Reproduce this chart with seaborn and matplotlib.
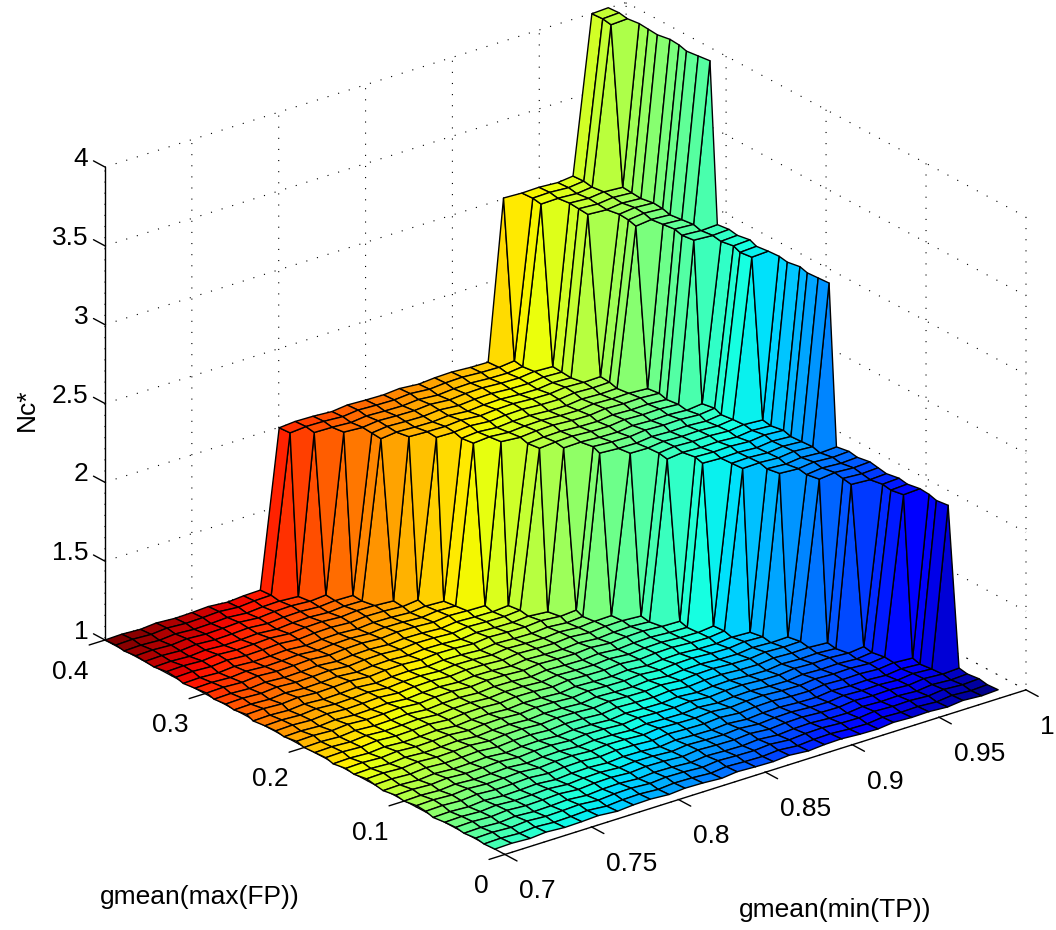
import numpy as np
import pandas as pd
import matplotlib
matplotlib.use('Agg')
import matplotlib.pyplot as plt
from mpl_toolkits.mplot3d import proj3d
import seaborn as sns

# grid of the surface (30 columns, 40 rows)
tp_vals = [0.70, 0.71, 0.72, 0.73, 0.74, 0.75, 0.76, 0.77, 0.78, 0.79,
           0.80, 0.81, 0.82, 0.83, 0.84, 0.85, 0.86, 0.87, 0.88, 0.89,
           0.90, 0.91, 0.92, 0.93, 0.94, 0.95, 0.96, 0.97, 0.98, 0.99]
fp_vals = [0.01, 0.02, 0.03, 0.04, 0.05, 0.06, 0.07, 0.08, 0.09, 0.10,
           0.11, 0.12, 0.13, 0.14, 0.15, 0.16, 0.17, 0.18, 0.19, 0.20,
           0.21, 0.22, 0.23, 0.24, 0.25, 0.26, 0.27, 0.28, 0.29, 0.30,
           0.31, 0.32, 0.33, 0.34, 0.35, 0.36, 0.37, 0.38, 0.39, 0.40]

# wobble of the mesh lines, estimated from the edges of the surface
fp_wobble = [0.0000, 0.0006, -0.0006, 0.0010, -0.0005, 0.0000, 0.0010, -0.0010, 0.0005, 0.0010,
             -0.0005, 0.0010, 0.0005, -0.0010, 0.0010, 0.0000, -0.0005, 0.0010, -0.0010, 0.0005,
             0.0010, -0.0005, -0.0010, 0.0010, 0.0000, 0.0005, -0.0010, 0.0010, -0.0005, 0.0005]
tp_wobble = [0.0000, -0.0005, 0.0005, -0.0005, 0.0005, 0.0000, -0.0010, 0.0005, 0.0010, -0.0005,
             0.0005, -0.0010, 0.0000, 0.0010, -0.0005, 0.0005, -0.0010, 0.0005, 0.0000, -0.0005,
             0.0010, -0.0005, 0.0005, 0.0000, -0.0010, 0.0010, -0.0005, 0.0005, -0.0005, 0.0010,
             0.0000, -0.0010, 0.0005, 0.0010, -0.0005, 0.0000, 0.0005, -0.0005, 0.0005, 0.0000]

# for each column, the first row (1..40) where Nc* reaches 2, 3 and 4; 41 = never
first_row_2 = [41, 41, 41, 41, 41, 41, 41, 41, 41, 41,
               39, 38, 37, 35, 34, 33, 31, 30, 28, 27,
               25, 24, 22, 20, 18, 16, 14, 12, 9, 6]
first_row_3 = [41, 41, 41, 41, 41, 41, 41, 41, 41, 41,
               41, 41, 41, 41, 41, 41, 41, 41, 41, 41,
               41, 41, 41, 40, 38, 35, 32, 28, 24, 18]
first_row_4 = [41, 41, 41, 41, 41, 41, 41, 41, 41, 41,
               41, 41, 41, 41, 41, 41, 41, 41, 41, 41,
               41, 41, 41, 41, 41, 41, 41, 41, 38, 30]

x_ticks = [0.7, 0.75, 0.8, 0.85, 0.9, 0.95, 1]
x_ticklabels = ['0.7', '0.75', '0.8', '0.85', '0.9', '0.95', '1']
y_ticks = [0, 0.1, 0.2, 0.3, 0.4]
y_ticklabels = ['0', '0.1', '0.2', '0.3', '0.4']
z_ticks = [1, 1.5, 2, 2.5, 3, 3.5, 4]
z_ticklabels = ['1', '1.5', '2', '2.5', '3', '3.5', '4']

sns.set_theme(style='white', rc={'text.color': 'black', 'xtick.color': 'black',
                                 'ytick.color': 'black', 'axes.labelcolor': 'black'})
plt.rcParams['font.family'] = ['Liberation Sans', 'DejaVu Sans']

rows = []
for j, fp in enumerate(fp_vals):
    for i, tp in enumerate(tp_vals):
        row_no = j + 1
        nc = 1 + (row_no >= first_row_2[i]) + (row_no >= first_row_3[i]) + (row_no >= first_row_4[i])
        rows.append((j, i, tp + tp_wobble[j], fp + fp_wobble[i], nc))
df = pd.DataFrame(rows, columns=['j', 'i', 'tp', 'fp', 'nc'])

X = df.pivot(index='j', columns='i', values='tp').values
Y = df.pivot(index='j', columns='i', values='fp').values
Z = df.pivot(index='j', columns='i', values='nc').values.astype(float)

# colour runs across the floor, dark red at (0.7, 0.4) to dark blue at (1, 0)
tpg, fpg = np.meshgrid(tp_vals, fp_vals)
C = 0.43 * (1 - (tpg - 0.7) / 0.29) + 0.59 * (fpg - 0.01) / 0.39
jet = plt.get_cmap('jet')  # seaborn refuses to hand out jet

W, H = 1056, 930
fig = plt.figure(figsize=(W / 100, H / 100), dpi=100)
ax = fig.add_axes([(W - H) / 2 / W, 0, H / W, 1], projection='3d', proj_type='ortho')
ax.set_box_aspect((1, 1, 0.79))
ax.view_init(elev=24.3, azim=-127.5)

ax.plot_surface(X, Y, Z, facecolors=jet(np.clip(C, 0, 1)), rstride=1, cstride=1, shade=False,
                edgecolor='black', linewidth=1.0, antialiased=True)

ax.set_xlim(0.7, 1, view_margin=0)
ax.set_ylim(0, 0.4, view_margin=0)
ax.set_zlim(1, 4, view_margin=0)
ax.set_xticks(x_ticks, x_ticklabels, fontsize=19)
ax.set_yticks(y_ticks, y_ticklabels, fontsize=19)
ax.set_zticks(z_ticks, z_ticklabels, fontsize=19)
ax.tick_params(axis='x', pad=6)
ax.tick_params(axis='y', pad=4)
ax.tick_params(axis='z', pad=-1)
plt.setp(ax.get_xticklabels(), ha='left')
plt.setp(ax.get_yticklabels(), ha='right')
plt.setp(ax.get_zticklabels(), ha='right', va='baseline')

for axis in [ax.xaxis, ax.yaxis, ax.zaxis]:
    axis.set_pane_color((1, 1, 1, 0))
    axis.pane.set_edgecolor('none')
    axis.line.set_color('black')
    axis.line.set_linewidth(1.0)
    axis._axinfo['grid'].update(color='black', linewidth=0.8, linestyle=(0, (1, 9)))

# the sign of the tick direction is flipped on the two floor axes in this view
ax.xaxis._axinfo['tick'].update(inward_factor=0.38, outward_factor=0.0, linewidth={True: 1.0, False: 1.0})
ax.yaxis._axinfo['tick'].update(inward_factor=0.38, outward_factor=0.0, linewidth={True: 1.0, False: 1.0})
ax.zaxis._axinfo['tick'].update(inward_factor=0.0, outward_factor=0.36, linewidth={True: 1.0, False: 1.0})

# z ticks lean back along the y direction, as in the reference
ax.zaxis._get_tickdir = lambda position: 1

fig.text(835 / W, 1 - 910 / H, 'gmean(min(TP))', fontsize=19, ha='center', va='center')
fig.text(200 / W, 1 - 897 / H, 'gmean(max(FP))', fontsize=19, ha='center', va='center')
fig.text(27 / W, 1 - 410 / H, 'Nc*', fontsize=19, ha='center', va='center', rotation=90)


# put the box where the reference has it
def to_px(x, y, z):
    a, b, _ = proj3d.proj_transform(x, y, z, ax.get_proj())
    return ax.transData.transform((a, b))


fig.canvas.draw()
left_px = to_px(0.7, 0.4, 1)
right_px = to_px(1, 0, 1)
s = (1026 - 105) / (right_px[0] - left_px[0])
box = ax.get_position()
cx = (box.x0 + box.x1) / 2 * W
cy = (box.y0 + box.y1) / 2 * H
side = box.height * H * s
new_cx = 105 - s * (left_px[0] - cx)
new_cy = (H - 640) - s * (left_px[1] - cy)
ax.set_position([(new_cx - side / 2) / W, (new_cy - side / 2) / H, side / W, side / H])

fig.savefig('out.png', dpi=100, facecolor='white')
